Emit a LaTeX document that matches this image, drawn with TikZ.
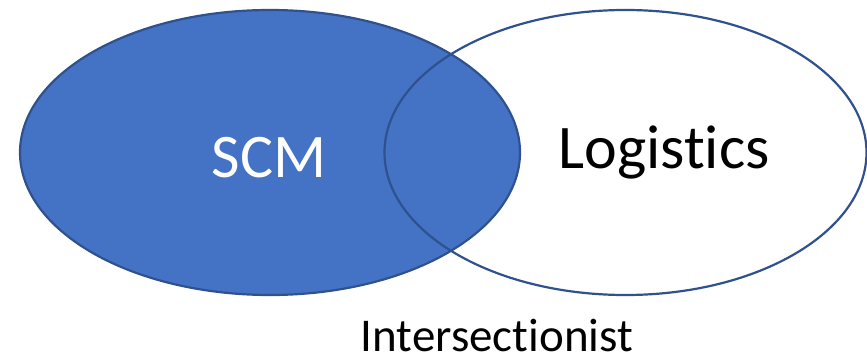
\documentclass[tikz,border=0pt]{standalone}
\usepackage{fontspec}
\setmainfont{Carlito}[Ligatures={NoCommon}]
\usetikzlibrary{shapes.geometric}
\definecolor{scmblue}{HTML}{4472C4}
\definecolor{edgeblue}{HTML}{2F528F}
\begin{document}
\begin{tikzpicture}[x=1pt,y=1pt,
  setshape/.style={ellipse,draw=edgeblue,line width=2.2pt,inner sep=0pt},
  bigtext/.style={anchor=base,inner sep=0pt,font=\fontsize{62}{72}\selectfont},
  captext/.style={anchor=base,inner sep=0pt,font=\fontsize{47}{56}\selectfont}]
\useasboundingbox (0,0) rectangle (867,-356);
\node[setshape,fill=scmblue,minimum width=500pt,minimum height=285pt] (scm) at (270,-152.5) {};
\node[setshape,minimum width=482pt,minimum height=285pt] (log) at (625.5,-152.5) {};
\node[bigtext,text=white] (scmtext) at (269,-177) {SCM};
\node[bigtext,text=black] (logtext) at (664,-168) {Logistics};
\node[captext,text=black] (inter) at (497,-351) {Intersectionist};
\end{tikzpicture}
\end{document}
